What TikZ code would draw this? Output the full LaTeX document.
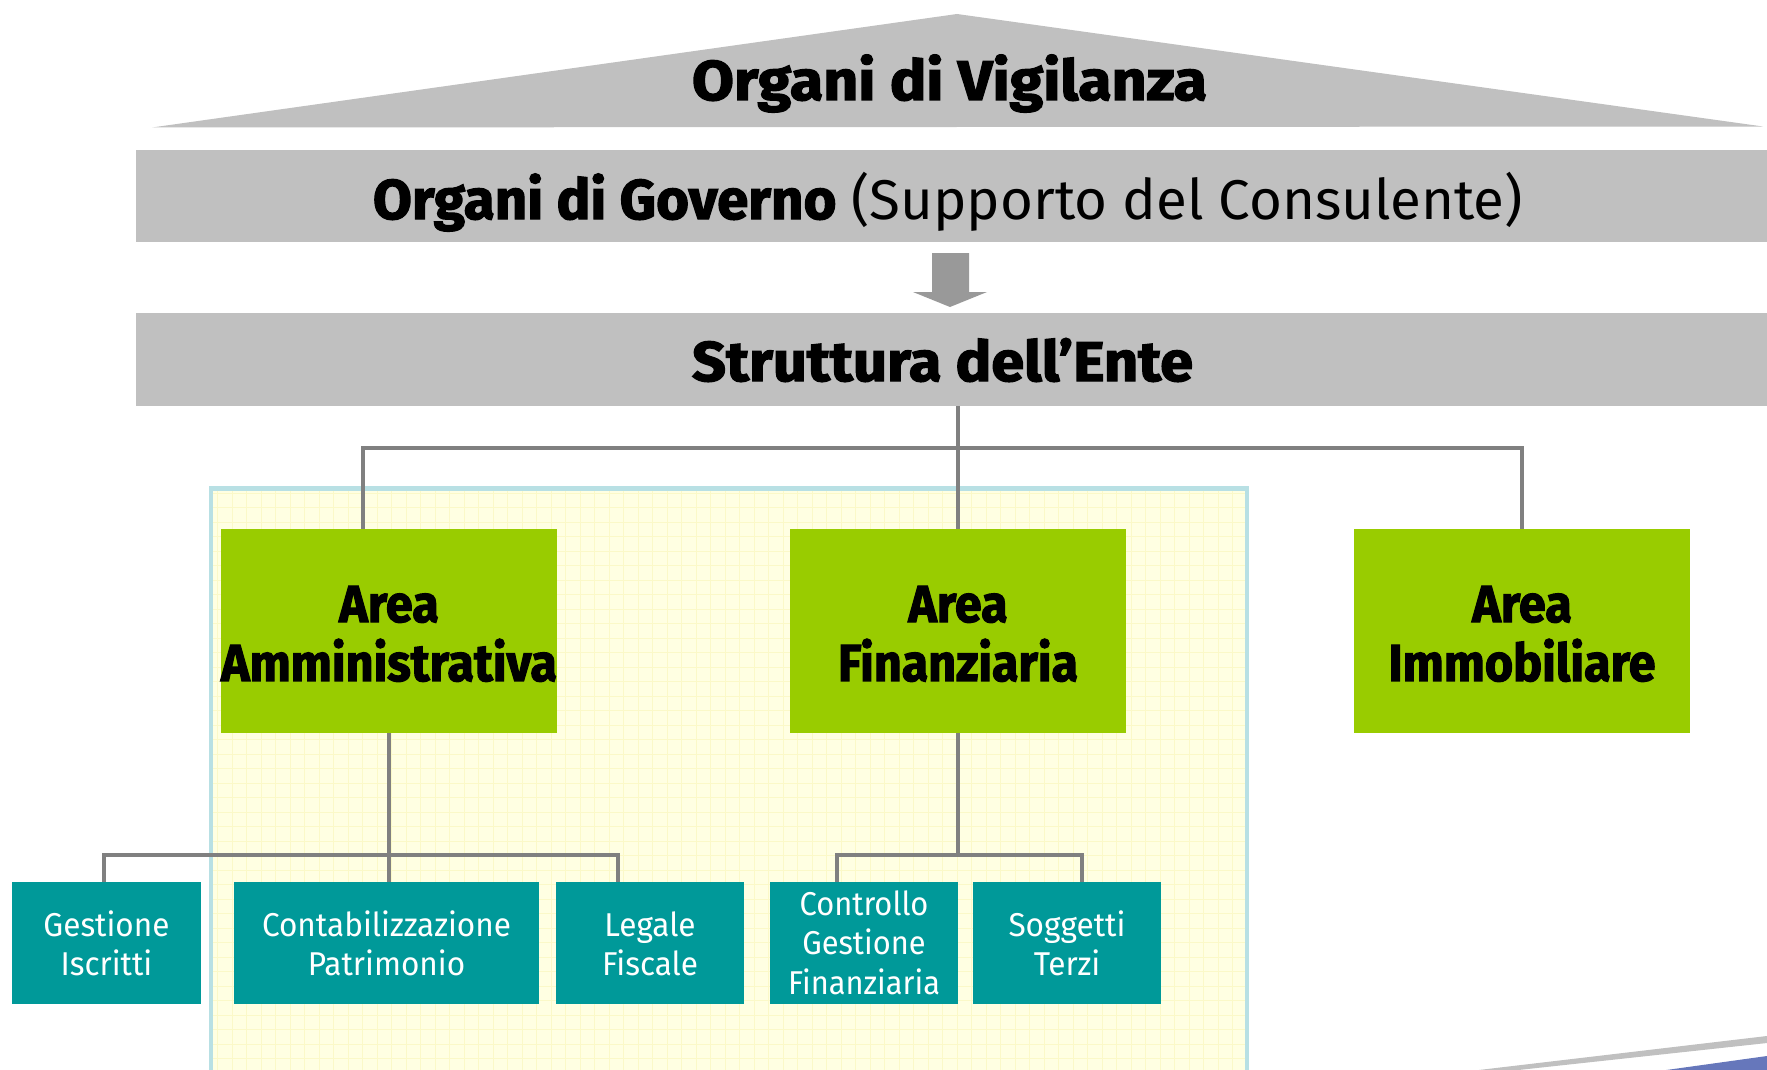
\documentclass[tikz,border=0pt]{standalone}
\usepackage{fontspec}
\setmainfont{Fira Sans}[BoldFeatures={FakeBold=2.2}]
\usepackage{graphicx}
\definecolor{bandgray}{HTML}{C0C0C0}
\definecolor{arrowgray}{HTML}{999999}
\definecolor{conngray}{HTML}{808080}
\definecolor{areagreen}{HTML}{99CC00}
\definecolor{tealbox}{HTML}{009999}
\definecolor{panelfill}{HTML}{FFFFE2}
\definecolor{panelgrid}{HTML}{FBF9C8}
\definecolor{panelborder}{HTML}{B8E0E4}
\definecolor{swooshblue}{HTML}{6677BB}
\newcommand\txtfit[2]{\resizebox{#1pt}{\height}{\begin{tabular}[t]{@{}c@{}}#2\end{tabular}}}
\begin{document}
\begin{tikzpicture}[x=1pt,y=-1pt,
  band/.style={fill=bandgray, draw=none, inner sep=0pt, minimum width=1631pt, minimum height=92pt},
  areabox/.style={fill=areagreen, draw=none, inner sep=0pt, minimum width=336pt, minimum height=204pt},
  subbox/.style={fill=tealbox, draw=none, inner sep=0pt, minimum height=122pt},
  headtxt/.style={inner sep=0pt, anchor=base, text=black, font=\fontsize{56}{60}\selectfont},
  areatxt/.style={inner sep=0pt, anchor=base, text=black, font=\fontsize{52}{56}\selectfont\bfseries},
  subtxt/.style={inner sep=0pt, anchor=base, text=white, font=\fontsize{33}{39.5}\selectfont},
  conn/.style={draw=conngray, line width=4pt, line join=miter, line cap=butt}]
\useasboundingbox (0,0) rectangle (1767,1070);
\clip (0,0) rectangle (1767,1070);
\fill[white] (0,0) rectangle (1767,1070);

% roof
\coordinate (roofL) at (152,127.5);
\coordinate (roofT) at (957,14);
\coordinate (roofR) at (1763,126.5);
\fill[bandgray] (roofL) -- (roofT) -- (roofR) -- cycle;
\node[headtxt] (vig) at (949.5,100) {\txtfit{515}{\bfseries Organi di Vigilanza}};

% bands
\node[band] (gov) at (951.5,196) {};
\node[headtxt] (govtxt) at ([xshift=-3.5pt,yshift=-23pt]gov.center) {\txtfit{1150}{\textbf{Organi di Governo} (Supporto del Consulente)}};
\node[band, minimum height=93pt] (str) at (951.5,359.5) {};
\node[headtxt] (strtxt) at ([xshift=-9pt,yshift=-21.5pt]str.center) {\txtfit{501}{\bfseries Struttura dell’Ente}};

% arrow between bands
\fill[arrowgray] (932,253) -- (969,253) -- (969,292) -- (987,292) -- (950,307) -- (913,292) -- (932,292) -- cycle;

% panel
\fill[panelfill] (211,488.5) rectangle (1247,1080);
\begin{scope}
\clip (213,491) rectangle (1245,1080);
\draw[panelgrid, line width=1pt, step=14.5pt] (211,488.5) grid (1247,1080);
\end{scope}
\draw[panelborder, line width=4.5pt] (211,1080) -- (211,488.5) -- (1247,488.5) -- (1247,1080);

% area boxes
\node[areabox] (amm) at (389,631) {};
\node[areabox] (fin) at (958,631) {};
\node[areabox] (imm) at (1522,631) {};
\node[areatxt] at ([yshift=9pt]amm.center) {\txtfit{336}{Area\\Amministrativa}};
\node[areatxt] at ([yshift=9pt]fin.center) {\txtfit{240}{Area\\Finanziaria}};
\node[areatxt] at ([yshift=9pt]imm.center) {\txtfit{267}{Area\\Immobiliare}};

% sub boxes
\node[subbox, minimum width=189pt] (gest) at (106.5,943) {};
\node[subbox, minimum width=305pt] (cont) at (386.5,943) {};
\node[subbox, minimum width=188pt] (leg) at (650,943) {};
\node[subbox, minimum width=188pt] (ctrl) at (864,943) {};
\node[subbox, minimum width=188pt] (sog) at (1067,943) {};
\node[subtxt] at ([yshift=7pt]gest.center) {\txtfit{126}{Gestione\\Iscritti}};
\node[subtxt] at ([yshift=7pt]cont.center) {\txtfit{249}{Contabilizzazione\\Patrimonio}};
\node[subtxt] at ([yshift=7pt]leg.center) {\txtfit{96}{Legale\\Fiscale}};
\node[subtxt] at ([yshift=28pt]ctrl.center) {\txtfit{152}{Controllo\\Gestione\\Finanziaria}};
\node[subtxt] at ([yshift=7pt]sog.center) {\txtfit{117}{Soggetti\\Terzi}};

% connectors top
\coordinate (j1) at (958,447.5);
\draw[conn] (str.south -| fin.north) -- (fin.north);
\draw[conn] ([xshift=-26pt]amm.north) -- ([xshift=-26pt]amm.north |- j1) -- (imm.north |- j1) -- (imm.north);

% connectors lower
\coordinate (j2) at (389,855);
\draw[conn] (amm.south) -- (amm.south |- cont.north);
\draw[conn] ([xshift=-2.5pt]gest.north) -- ([xshift=-2.5pt]gest.north |- j2) -- ([xshift=-32pt]leg.north |- j2) -- ([xshift=-32pt]leg.north);
\coordinate (j3) at (960,855);
\draw[conn] (fin.south) -- (fin.south |- j3);
\draw[conn] ([xshift=-27pt]ctrl.north) -- ([xshift=-27pt]ctrl.north |- j3) -- ([xshift=15pt]sog.north |- j3) -- ([xshift=15pt]sog.north);

% decorative swoosh bottom right
\fill[bandgray] (1462,1072) -- (1767,1036) -- (1767,1043) -- (1500,1072) -- cycle;
\fill[swooshblue] (1652,1072) -- (1767,1056) -- (1767,1072) -- cycle;
\end{tikzpicture}
\end{document}
